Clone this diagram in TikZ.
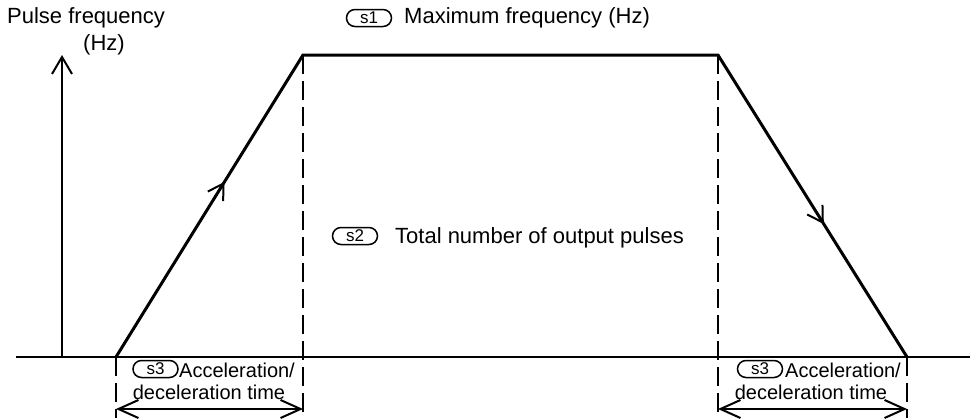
\documentclass[tikz,border=0pt]{standalone}
\usepackage{fontspec}
\setmainfont{Liberation Sans}
\usetikzlibrary{arrows.meta,decorations.markings}
\begin{document}
\begin{tikzpicture}[x=1pt,y=-1pt,
  axis/.style={line width=2pt},
  curve/.style={line width=3pt,line join=miter},
  guide/.style={line width=2pt,dash pattern=on 19pt off 7pt},
  dim/.style={line width=2pt,{Straight Barb[length=20pt,width=18pt,line width=2pt]}-{Straight Barb[length=20pt,width=18pt,line width=2pt]}},
  sbox/.style={draw,line width=1.5pt,rounded corners=8.5pt,minimum width=45pt,minimum height=17pt,inner sep=0pt,font=\fontsize{17}{17}\selectfont},
  bigtxt/.style={inner sep=0pt,font=\fontsize{22}{26}\selectfont},
  smalltxt/.style={inner sep=0pt,font=\fontsize{20}{22}\selectfont},
  midarrow/.style={postaction={decorate},decoration={markings,mark=at position #1 with {\arrow{Straight Barb[length=15pt,width=18pt,line width=2pt]}}}}
]
\useasboundingbox (0,0) rectangle (972,418);
% axes
\coordinate (ox) at (16,357);
\coordinate (xe) at (970,357);
\coordinate (yb) at (62,357);
\coordinate (yt) at (62,55);
\draw[axis] (ox) -- (xe);
\draw[axis,-{Straight Barb[length=17pt,width=20pt,line width=2pt]}] (yb) -- (yt);
% trapezoid
\coordinate (A) at (116,357);
\coordinate (B) at (303,55);
\coordinate (C) at (718,55);
\coordinate (D) at (907,357);
\draw[curve] (A) -- (B) -- (C) -- (D);
\path[midarrow=0.58] (A) -- (B);
\path[midarrow=0.56] (C) -- (D);
% guides
\coordinate (A2) at (116,418);
\coordinate (B2) at (303,418);
\coordinate (C2) at (718,418);
\coordinate (D2) at (907,418);
\draw[guide] (A) -- (A2);
\draw[guide] (B) -- (B2);
\draw[guide] (C) -- (C2);
\draw[guide] (D) -- (D2);
% dimension arrows
\coordinate (d1) at (116,409);
\coordinate (d2) at (303,409);
\coordinate (d3) at (718,409);
\coordinate (d4) at (907,409);
\draw[dim] (d1) -- (d2);
\draw[dim] (d3) -- (d4);
% labels
\node[bigtxt,anchor=west] (pf) at (7,18) {Pulse frequency};
\node[bigtxt] (hz) at (104,45) {(Hz)};
\node[sbox] (s1) at (369,18) {s1};
\node[bigtxt,anchor=west] (s1t) at (404,18) {Maximum frequency (Hz)};
\node[sbox] (s2) at (355,236) {s2};
\node[bigtxt,anchor=west] (s2t) at (395,238) {Total number of output pulses};
\node[sbox] (s3a) at (155.5,369) {s3};
\node[smalltxt,anchor=west] (s3at) at (179,370) {Acceleration/};
\node[smalltxt] (s3at2) at (209,392) {deceleration time};
\node[sbox] (s3b) at (760,369) {s3};
\node[smalltxt,anchor=west] (s3bt) at (785,370) {Acceleration/};
\node[smalltxt] (s3bt2) at (811,392) {deceleration time};
\end{tikzpicture}
\end{document}
